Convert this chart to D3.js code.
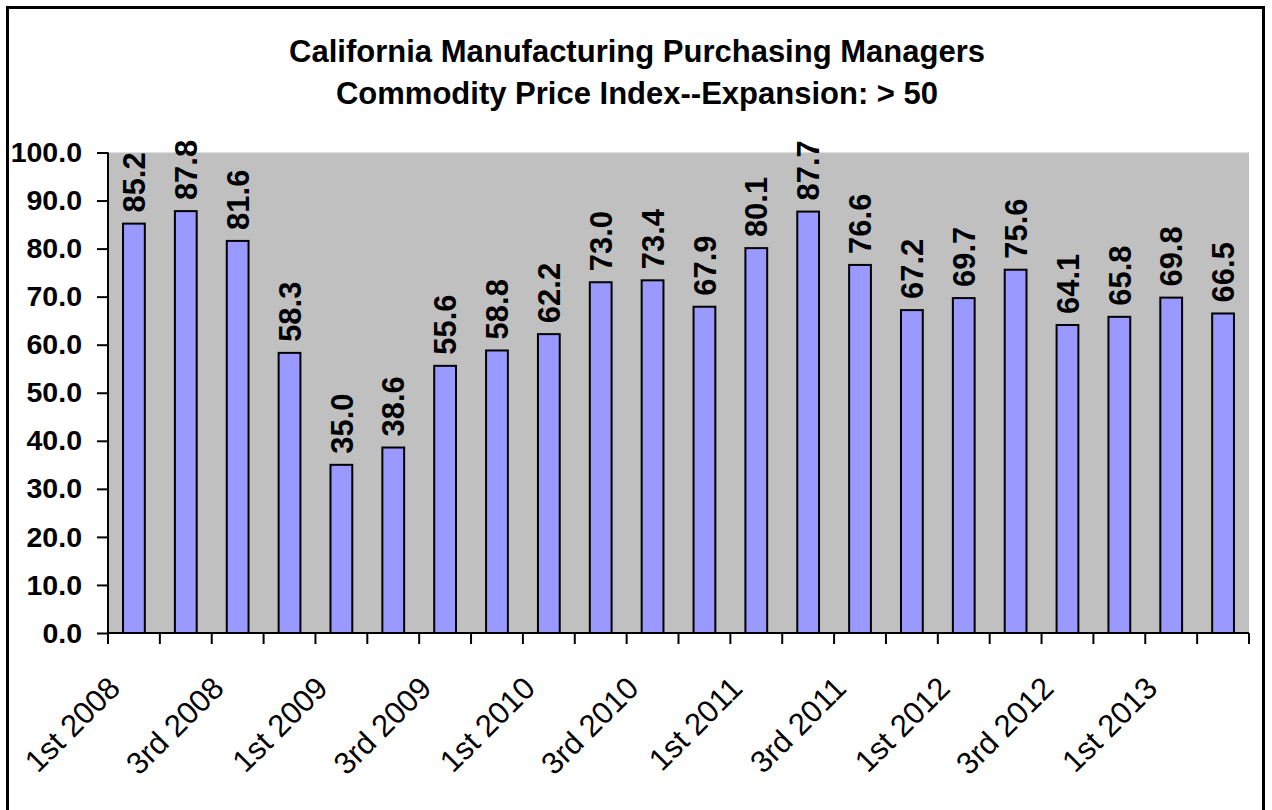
<!DOCTYPE html>
<html lang="en">
<head>
<meta charset="utf-8">
<script src="https://d3js.org/d3.v7.min.js"></script>
<style>
  body { margin: 0; background: #fff; }
  text { font-family: "Liberation Sans", Arial, sans-serif; }
</style>
</head>
<body>
<script>
// quarters, Q1 2008 .. Q2 2013
var quarters = ["1st 2008","2nd 2008","3rd 2008","4th 2008",
  "1st 2009","2nd 2009","3rd 2009","4th 2009",
  "1st 2010","2nd 2010","3rd 2010","4th 2010",
  "1st 2011","2nd 2011","3rd 2011","4th 2011",
  "1st 2012","2nd 2012","3rd 2012","4th 2012",
  "1st 2013","2nd 2013"];
var values = [85.2, 87.8, 81.6, 58.3, 35.0, 38.6, 55.6, 58.8, 62.2, 73.0, 73.4,
  67.9, 80.1, 87.7, 76.6, 67.2, 69.7, 75.6, 64.1, 65.8, 69.8, 66.5];
var yTicks = [0, 10, 20, 30, 40, 50, 60, 70, 80, 90, 100];
var titleLines = ["California Manufacturing Purchasing Managers",
  "Commodity Price Index--Expansion: > 50"];

var width = 1272, height = 810;
var plot = {left: 108, right: 1249, top: 152.5, bottom: 633};

var svg = d3.select("body").append("svg")
    .attr("width", width)
    .attr("height", height);

// outer frame
svg.append("rect")
    .attr("x", 7.5).attr("y", 7.5)
    .attr("width", 1256).attr("height", 820)
    .attr("fill", "#fff")
    .attr("stroke", "#000")
    .attr("stroke-width", 3);

svg.selectAll(".title")
    .data(titleLines)
    .enter().append("text")
    .attr("class", "title")
    .attr("x", 637)
    .attr("y", function(d, i) { return 62 + i * 42; })
    .attr("text-anchor", "middle")
    .attr("font-size", 31)
    .attr("font-weight", "bold")
    .text(function(d) { return d; });

var x = d3.scaleBand()
    .domain(quarters)
    .range([plot.left, plot.right])
    .paddingInner(0.58)
    .paddingOuter(0.29);

var y = d3.scaleLinear()
    .domain([0, 100])
    .range([plot.bottom, plot.top]);

// plot background
svg.append("rect")
    .attr("x", plot.left).attr("y", plot.top)
    .attr("width", plot.right - plot.left)
    .attr("height", plot.bottom - plot.top)
    .attr("fill", "#c0c0c0");

svg.selectAll(".bar")
    .data(values)
    .enter().append("rect")
    .attr("class", "bar")
    .attr("x", function(d, i) { return x(quarters[i]); })
    .attr("y", function(d) { return y(d); })
    .attr("width", x.bandwidth())
    .attr("height", function(d) { return y(0) - y(d); })
    .attr("fill", "#9999ff")
    .attr("stroke", "#000")
    .attr("stroke-width", 2);

svg.selectAll(".val")
    .data(values)
    .enter().append("text")
    .attr("class", "val")
    .attr("transform", function(d, i) {
        return "translate(" + (x(quarters[i]) + x.bandwidth() / 2) + "," + (y(d) - 11) + ") rotate(-90)";
    })
    .attr("dy", "0.36em")
    .attr("font-size", 31)
    .attr("font-weight", "bold")
    .text(function(d) { return d.toFixed(1); });

// y axis
var yAxis = svg.append("g")
    .attr("transform", "translate(" + plot.left + ",0)")
    .call(d3.axisLeft(y).tickValues(yTicks).tickSize(11).tickPadding(15)
        .tickFormat(function(d) { return d.toFixed(1); }));
yAxis.select(".domain").attr("stroke-width", 2).attr("d", "M0," + plot.top + "V" + plot.bottom);
yAxis.selectAll(".tick line").attr("stroke-width", 2);
yAxis.selectAll(".tick text")
    .attr("font-size", 28.5)
    .attr("font-weight", "bold")
    .attr("fill", "#000")
    .style("font-family", "'Liberation Sans', Arial, sans-serif");

// x axis: ticks at category boundaries
var step = x.step();
var bounds = d3.range(quarters.length + 1).map(function(i) { return plot.left + i * step; });
var xa = svg.append("g");
xa.append("line")
    .attr("x1", plot.left).attr("x2", plot.right)
    .attr("y1", plot.bottom).attr("y2", plot.bottom)
    .attr("stroke", "#000").attr("stroke-width", 2);
xa.selectAll(".xt")
    .data(bounds)
    .enter().append("line")
    .attr("x1", function(d) { return d; }).attr("x2", function(d) { return d; })
    .attr("y1", plot.bottom).attr("y2", plot.bottom + 11)
    .attr("stroke", "#000").attr("stroke-width", 2);

xa.selectAll(".xl")
    .data(quarters.filter(function(d, i) { return i % 2 === 0; }))
    .enter().append("text")
    .attr("class", "xl")
    .attr("transform", function(d) {
        return "translate(" + (x(d) + x.bandwidth() / 2 - 12) + ",690) rotate(-45)";
    })
    .attr("text-anchor", "end")
    .attr("font-size", 31)
    .text(function(d) { return d; });
</script>
</body>
</html>
